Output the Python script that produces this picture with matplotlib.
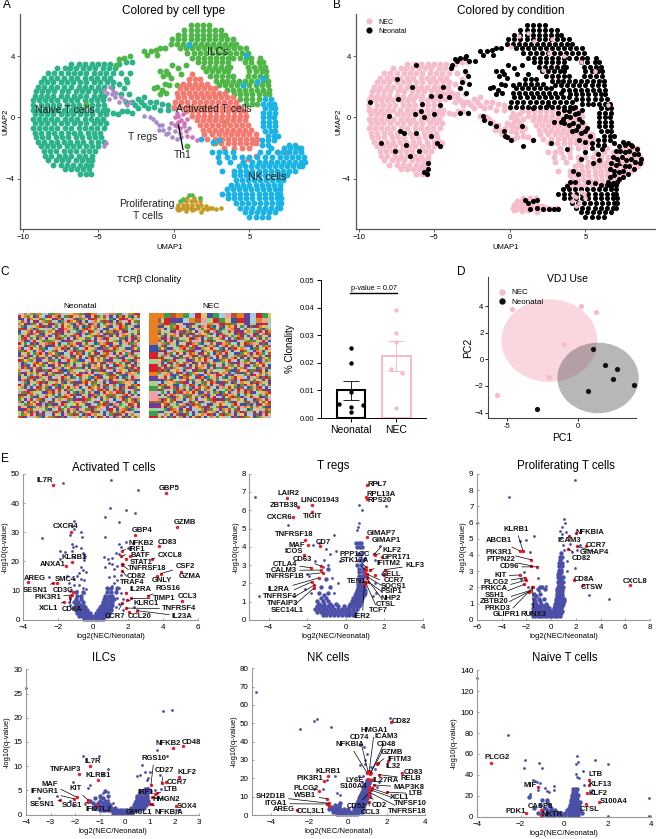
import matplotlib
matplotlib.use("Agg")
import matplotlib.pyplot as plt
from matplotlib.colors import ListedColormap
from matplotlib.patches import Ellipse
from matplotlib.lines import Line2D

plt.rcParams['font.family'] = ['Liberation Sans', 'DejaVu Sans']

W, H = 656, 839

# ---- UMAP points, rows of (y, [x, ...]) ----
naive_rows = [
    (3.5, [-6.8, -6.3, -5.9, -5.4, -5.0, -4.6, -4.2]),
    (3.2, [-7.7, -7.2, -6.9, -6.5, -6.0, -5.6, -5.2, -4.7, -4.3, -3.9]),
    (2.9, [-8.3, -7.9, -7.5, -7.0, -6.6, -6.2, -5.8, -5.3, -4.9, -4.5, -4.0]),
    (2.6, [-8.6, -8.1, -7.7, -7.3, -6.8, -6.4, -5.9, -5.5, -5.1, -4.6, -4.2]),
    (2.3, [-8.8, -8.4, -8.0, -7.5, -7.1, -6.7, -6.2, -5.8, -5.3, -4.9, -4.4, -4.0]),
    (2.0, [-9.0, -8.6, -8.1, -7.7, -7.3, -6.8, -6.3, -5.9, -5.5, -5.0, -4.6, -4.1]),
    (1.7, [-9.1, -8.7, -8.3, -7.9, -7.4, -7.0, -6.5, -6.1, -5.7, -5.2, -4.8]),
    (1.4, [-9.2, -8.8, -8.4, -8.0, -7.5, -7.1, -6.6, -6.2, -5.8, -5.3, -4.9, -4.6]),
    (1.1, [-9.3, -8.9, -8.5, -8.1, -7.7, -7.2, -6.8, -6.4, -5.9, -5.5, -5.1, -4.7]),
    (0.8, [-9.3, -8.8, -8.4, -8.0, -7.6, -7.1, -6.7, -6.3, -5.8, -5.4, -5.0, -4.6]),
    (0.5, [-9.3, -8.9, -8.5, -8.1, -7.7, -7.3, -6.8, -6.4, -6.0, -5.5, -5.1, -4.7, -4.4]),
    (0.2, [-9.2, -8.8, -8.4, -8.0, -7.5, -7.1, -6.7, -6.2, -5.8, -5.4, -4.9, -4.5]),
    (-0.1, [-9.3, -8.9, -8.5, -8.1, -7.7, -7.2, -6.8, -6.4, -5.9, -5.5, -5.1, -4.7]),
    (-0.4, [-9.2, -8.8, -8.4, -7.9, -7.5, -7.1, -6.6, -6.2, -5.8, -5.3, -4.9, -4.5]),
    (-0.7, [-9.3, -8.9, -8.5, -8.1, -7.7, -7.2, -6.8, -6.3, -5.9, -5.5, -5.1, -4.6]),
    (-1.0, [-9.2, -8.8, -8.3, -7.9, -7.5, -7.0, -6.6, -6.2, -5.7, -5.3, -4.9]),
    (-1.3, [-9.1, -8.7, -8.3, -7.8, -7.4, -7.0, -6.5, -6.1, -5.6, -5.2, -4.8]),
    (-1.6, [-9.0, -8.6, -8.1, -7.7, -7.3, -6.9, -6.4, -6.0, -5.5, -5.0, -4.6]),
    (-1.9, [-8.8, -8.4, -8.0, -7.6, -7.1, -6.7, -6.3, -5.8, -5.4, -5.0]),
    (-2.2, [-8.6, -8.2, -7.8, -7.3, -6.9, -6.5, -6.0, -5.6, -5.2]),
    (-2.5, [-8.5, -8.1, -7.6, -7.2, -6.8, -6.3, -5.9, -5.4]),
    (-2.8, [-8.3, -7.8, -7.4, -7.0, -6.5, -6.1, -5.7, -5.4]),
    (-3.1, [-8.0, -7.5, -7.1, -6.7, -6.2, -5.8, -5.5]),
    (-3.4, [-7.2, -6.8, -6.4, -6.0, -5.6]),
    (-3.7, [-6.2, -5.8, -5.5]),
]
naive_tail_x = [-3.6, -3.2, -2.8, -3.5, -3.2, -2.9, -3.6, -3.3, -3.1, -3.5, -3.0, -4.0, -3.7, -3.4, -3.1,
                -2.8, -2.4, -2.0, -1.6, -1.2, -0.8, -0.4, -3.2, -2.8, -2.4, -2.0, -2.6, -2.2, -1.7, -1.3, -0.9, -0.4, 0.0]
naive_tail_y = [3.5, 3.6, 3.6, 2.9, 2.5, 2.9, 2.2, 1.9, 2.3, 1.5, 1.5, 0.3, 0.2, 0.4, 0.4,
                0.3, 0.6, 0.8, 1.0, 1.0, 0.9, 0.8, 1.0, 1.0, 1.2, 1.3, 0.8, 1.0, 0.6, 0.7, 0.5, 0.5, 0.6]

ilc_rows = [
    (6.0, [1.1, 1.5, 1.9, 2.3]),
    (5.7, [0.7, 1.1, 1.5, 1.9, 2.3, 2.7, 3.1]),
    (5.4, [0.3, 0.7, 1.1, 1.5, 1.9, 2.3, 2.7, 3.1, 3.4]),
    (5.1, [-0.1, 0.3, 0.7, 1.1, 1.5, 1.9, 2.3, 2.7, 3.1, 3.5, 3.9]),
    (4.8, [-0.2, 0.2, 0.6, 1.0, 1.4, 1.8, 2.2, 2.6, 3.0, 3.4, 3.8, 4.1]),
    (4.5, [0.4, 0.8, 1.2, 1.6, 2.0, 2.4, 2.8, 3.2, 3.6, 4.0, 4.4, 4.8]),
    (4.2, [0.9, 1.3, 1.7, 2.1, 2.5, 2.9, 3.3, 3.7, 4.1, 4.5, 4.9]),
    (3.9, [1.2, 1.6, 2.0, 2.4, 2.8, 3.2, 3.6, 3.9, 4.4, 4.8, 5.1, 5.7]),
    (3.6, [1.6, 2.0, 2.4, 2.8, 3.2, 3.6, 4.7, 5.1, 5.6, 5.9]),
    (3.3, [1.9, 2.3, 2.7, 3.1, 3.5, 3.7, 4.9, 5.3, 5.7, 6.0]),
    (3.0, [2.1, 2.5, 2.9, 3.3, 3.6, 5.0, 5.4, 5.8, 6.1]),
    (2.7, [2.4, 2.8, 3.2, 3.6, 3.9, 4.9, 5.3, 5.7, 6.1]),
    (2.4, [2.8, 3.2, 3.5, 3.9, 4.3, 4.7, 5.1, 5.5, 5.9, 6.2]),
    (2.1, [3.0, 3.4, 3.8, 4.2, 4.6, 5.0, 5.4, 5.8, 6.2]),
    (1.8, [3.5, 3.9, 4.3, 4.7, 5.1, 5.5, 5.9, 6.3]),
    (1.5, [4.0, 4.4, 4.8, 5.2, 5.6, 6.0, 6.3]),
    (1.2, [4.4, 4.8, 5.2, 5.6]),
    (0.9, [4.8, 5.2, 5.5]),
]
ilc_left_x = [-3.6, -3.3, -2.9, -2.0, -1.8, -1.5, -1.2, -0.9, -1.1, -0.6, -0.9, -0.5, -0.7, -0.4, -0.2,
              -1.1, -1.3, -0.8, -0.6, -0.9, -0.5, -0.3, 0.2, 0.3, 0.5, 0.8, -0.1, 1.5, 2.4, 3.4, 0.9, 2.7, -3.8, -5.8, 6.5]
ilc_left_y = [3.8, 3.9, 4.0, 4.3, 4.1, 4.3, 4.4, 4.5, 4.1, 4.5, 3.0, 3.0, 2.7, 2.8, 2.6,
              2.0, 1.9, 1.8, 2.2, 1.5, 1.6, 2.1, 2.1, 3.2, 2.8, 3.4, 3.4, 0.6, 0.7, -0.3, -1.9, -1.7, 3.4, 0.9, 0.7]

act_hi_rows = [
    (2.8, [1.2]),
    (2.5, [1.0, 1.4, 1.7]),
    (2.2, [0.6, 1.0, 1.4, 1.8, 2.2]),
    (1.9, [0.4, 0.8, 1.2, 1.6, 2.0, 2.4, 2.7]),
    (1.6, [0.2, 0.6, 1.0, 1.4, 1.8, 2.2, 2.6, 3.0, 3.4]),
    (1.3, [0.3, 0.7, 1.1, 1.5, 1.9, 2.3, 2.7, 3.1, 3.5, 3.9]),
    (1.0, [0.1, 0.5, 0.9, 1.3, 1.7, 2.1, 2.5, 2.9, 3.3, 3.7, 4.1]),
    (0.7, [0.0, 0.4, 0.8, 1.2, 1.6, 2.0, 2.4, 2.8, 3.2, 3.6, 4.0, 4.3]),
]
act_lo_rows = [
    (0.4, [0.8, 1.2, 1.6, 2.0, 2.4, 2.8, 3.2, 3.6, 4.0, 4.4, 4.7]),
    (0.1, [1.2, 1.6, 2.0, 2.4, 2.8, 3.2, 3.6, 4.0, 4.4, 4.8]),
    (-0.2, [1.5, 1.9, 2.3, 2.7, 3.1, 3.5, 3.9, 4.3, 4.7]),
    (-0.5, [1.7, 2.1, 2.5, 2.9, 3.3, 3.7, 4.1, 4.5, 4.9]),
    (-0.8, [1.9, 2.3, 2.7, 3.1, 3.5, 3.9, 4.3, 4.7, 5.1]),
    (-1.1, [2.0, 2.5, 3.0, 3.4, 3.8, 4.2, 4.6, 5.0, 5.4]),
    (-1.4, [2.2, 2.7, 3.2, 3.6, 4.0, 4.4, 4.8, 5.2, 5.5]),
    (-1.7, [2.6, 3.1, 3.6, 4.0, 4.4, 4.8, 5.2, 5.4]),
    (-2.0, [3.3, 4.0, 4.5, 5.0]),
]
act_far_x = [4.9, 5.4, 6.9, 7.4, 8.3, 4.6]
act_far_y = [-2.7, -2.5, -2.3, -2.3, -2.0, -2.9]

nk_top_rows = [
    (1.2, [6.0, 6.4]),
    (0.9, [5.9, 6.3, 6.6]),
    (0.6, [6.0, 6.4, 6.7]),
    (0.3, [5.9, 6.3, 6.7]),
    (0.0, [5.9, 6.3, 6.6]),
    (-0.3, [5.9, 6.3, 6.7]),
    (-0.6, [5.9, 6.3, 6.7]),
    (-0.9, [6.0, 6.4, 6.7]),
    (-1.2, [6.2, 6.6, 6.9]),
    (-1.5, [5.8, 6.2, 6.6]),
    (-1.8, [5.8, 6.2, 7.6, 8.0]),
]
nk_mid_rows = [
    (-2.0, [6.4, 7.3, 7.7, 8.1, 8.4]),
    (-2.3, [2.5, 3.0, 3.4, 3.9, 5.7, 6.2, 6.8, 7.2, 7.6, 8.0, 8.4]),
    (-2.6, [2.9, 3.5, 4.0, 4.5, 5.0, 5.5, 6.0, 6.5, 7.0, 7.4, 7.8, 8.2, 8.6]),
    (-2.9, [3.0, 3.7, 4.6, 5.2, 5.6, 6.0, 6.4, 6.8, 7.2, 7.6, 8.0, 8.4, 8.7]),
    (-3.2, [4.3, 4.7, 5.1, 5.5, 5.9, 6.3, 6.7, 7.1, 7.5, 7.9, 8.3, 8.5]),
    (-3.5, [3.2, 4.0, 4.4, 4.8, 5.2, 5.6, 6.0, 6.4, 6.8, 7.2, 7.6, 8.0]),
    (-3.8, [4.0, 4.4, 4.8, 5.2, 5.6, 6.0, 6.4, 6.8, 7.2, 7.5]),
    (-4.1, [4.1, 4.5, 4.9, 5.3, 5.7, 6.1, 6.5, 6.9, 7.2]),
    (-4.4, [3.8, 4.2, 4.6, 5.0, 5.4, 5.8, 6.2, 6.6, 7.0]),
]
nk_low_rows = [
    (-4.7, [3.5, 3.9, 4.3, 4.7, 5.1, 5.5, 5.9, 6.3, 6.7, 7.0]),
    (-5.0, [3.2, 3.6, 4.0, 4.4, 4.8, 5.2, 5.6, 6.0, 6.4, 6.8, 7.0]),
    (-5.3, [3.6, 4.0, 4.4, 4.8, 5.2, 5.6, 6.0, 6.4, 6.8, 7.1]),
    (-5.6, [4.1, 4.5, 4.9, 5.3, 5.7, 6.1, 6.5, 6.9, 7.1]),
    (-5.9, [4.4, 4.8, 5.2, 5.6, 6.0, 6.4, 6.8, 7.0]),
    (-6.2, [4.7, 5.1, 5.5, 5.9, 6.3, 6.7]),
    (-6.5, [5.0, 5.4, 5.8, 6.2]),
]
treg_x = [-2.0, -1.6, -1.2, -1.0, -0.7, -0.4, -0.1, 0.2, -0.3, 0.1, 0.4, 0.2, 0.7, 1.0, -0.8, 0.5, -1.4, -1.0, -0.5, -0.2,
          -4.4, -4.0, -4.2, -4.3, -3.9, -3.6, -3.3, -3.1, -2.9, -3.5, -4.6, -4.1, -3.8, -4.5, -4.6]
treg_y = [0.1, 0.0, -0.3, -0.5, -0.8, -1.0, -1.3, -1.4, -0.7, -0.9, -1.0, -0.6, -0.6, -0.7, -0.5, -1.3, -0.1, -0.8, -1.1, -0.4,
          1.6, 1.7, 2.0, 1.2, 1.3, 1.0, 1.1, 0.8, 1.0, 1.3, 1.8, 1.5, 1.6, -1.7, -1.9]
th1_x = [0.1, 0.2, 0.3, 0.5, 0.1, 0.7, 0.9, 1.2, 1.5, 0.6, 0.9, 0.3, 0.4, 0.8]
th1_y = [0.0, 0.3, -0.3, -0.2, -0.5, -0.4, -1.2, -1.3, -1.5, 0.2, -0.1, 0.1, -0.7, -0.9]
prolif_x = [0.2, 0.4, 0.6, 0.9, 1.1, 1.3, 1.6, 1.9, 2.2, 0.3, 0.6, 0.9, 1.2, 1.5, 1.8, 2.1, 2.4,
            0.5, 0.8, 1.1, 1.4, 1.7, 0.9, 1.3, 1.7, 0.3, 0.8, 1.2, 1.8, 2.5, 2.8, 3.1]
prolif_y = [-5.9, -6.0, -5.9, -5.9, -5.9, -6.0, -5.9, -6.0, -6.0, -5.7, -5.7, -5.7, -5.7, -5.7, -5.7, -5.8, -5.9,
            -5.5, -5.5, -5.5, -5.5, -5.5, -5.3, -5.3, -5.3, -6.05, -6.1, -6.05, -6.2, -5.95, -6.0, -5.95]
green_on_prolif_x = [0.4, 0.6, 1.0, 1.2, 1.7]
green_on_prolif_y = [-5.5, -5.35, -5.1, -5.1, -5.3]
blue_spare_x = [1.0, 4.8, 4.6, 5.9, 5.5, 1.8, 3.0, 2.6]
blue_spare_y = [4.7, 4.1, 2.1, 2.6, 2.3, -1.4, -1.5, -1.6]

# condition overlays for panel B
neonatal_extra_x = [-9.25, -7.5, -6.2, -6.5, -7.4, -5.2, -5.9, -6.3, -5.7, -4.6, -4.6, -4.4, -8.0, -7.3, -7.0, -6.9, -6.6, -6.0,
                    -5.2, -4.8, -6.2, -7.6, -5.5, -5.7, -5.4, -5.4, -8.5, -4.6, -5.0, -4.0, -3.9, -3.5, -3.0, -2.7, -2.3,
                    -3.0, -2.8, -3.2, -2.7, -2.9, -3.3, -3.3, -2.8, -1.8, -1.7, -1.3, -0.9, -0.4, -0.2, 0.1, -0.3, 0.8, 1.5,
                    3.6, 3.9, 4.2, 4.5, 4.8, 3.7, 4.0, 4.3, 4.6, 3.6, 3.9, 4.2, 4.5, 4.8, 5.1, 4.1, 4.4, 4.7, 5.0, 5.3, 4.6, 5.0, 5.4,
                    3.2, 3.5, 2.9, 2.5, 3.8,
                    6.9, 7.2, 7.5, 7.8, 8.1, 8.4, 7.0, 7.3, 7.6, 7.9, 8.2, 8.5, 8.7, 6.8, 7.1, 7.4, 7.7, 8.0, 8.3, 8.6, 6.7, 7.0, 7.3, 7.6, 7.9, 8.2,
                    6.6, 6.9, 7.2, 7.5, 7.8, 6.6, 6.9, 7.2, 7.5, 6.5, 6.8, 7.1, 6.4, 6.7, 7.0,
                    4.2, 4.5, 4.0, 3.8, 4.3, 4.7, 5.0, 5.4, 5.8, 6.1, 5.2, 5.6, 6.0, 5.5, 5.9,
                    1.0, 1.2, 1.5, 1.8, 1.8, 1.3, 2.2, 2.6, 2.9, 3.2]
neonatal_extra_y = [1.0, 2.5, 3.4, 2.0, 1.2, 1.4, 0.4, 0.2, 0.0, 0.8, 1.4, 2.0, 0.1, -0.9, -1.0, -1.8, -2.5, -2.2,
                    -1.2, -1.7, -1.0, -2.2, -3.7, -3.6, -3.4, -3.0, -1.7, -1.9, 0.2, 1.3, 3.2, 3.7, 3.9, 3.7, 3.7,
                    3.0, 2.7, 2.3, 2.2, 1.6, 1.9, 0.3, 0.3, 0.1, -0.2, -0.4, -0.6, -0.9, -1.3, -1.5, -1.2, -0.6, -1.5,
                    0.5, 0.4, 0.6, 0.3, 0.5, 0.1, 0.0, 0.2, -0.1, -0.4, -0.5, -0.4, -0.6, -0.3, -0.7, -0.9, -0.8, -1.0, -0.9, -1.2, -1.5, -1.6, -1.7,
                    0.3, -0.1, -0.3, 0.8, -2.1,
                    -1.7, -1.9, -1.6, -1.7, -1.9, -2.1, -2.2, -2.2, -2.3, -2.2, -2.4, -2.4, -2.7, -2.6, -2.7, -2.6, -2.8, -2.7, -2.9, -3.0, -3.0, -3.1, -3.0, -3.2, -3.2, -3.4,
                    -3.4, -3.5, -3.6, -3.5, -3.7, -3.9, -3.8, -4.0, -3.9, -4.2, -4.3, -4.2, -4.4, -4.5, -4.4,
                    -3.5, -3.7, -4.2, -4.5, -4.2, -2.7, -2.3, -2.0, -2.4, -2.1, -4.2, -4.3, -4.4, -3.0, -2.8,
                    -5.4, -5.6, -5.5, -5.4, -5.9, -6.0, -6.0, -6.0, -6.0, -6.0]
nec_extra_x = [4.1, 4.4, 4.6, 4.4, 4.9, 4.2, 4.7, 5.0, 0.1, 0.6, 1.6, 2.8, 3.6, 2.2, 5.6, 4.7, 1.2, 2.6, 6.5, 7.4, 5.7]
nec_extra_y = [-5.5, -5.2, -5.6, -5.8, -5.0, -5.1, -4.9, -5.3, 4.6, 5.3, 5.0, 5.1, 4.0, 3.1, 3.0, 3.6, 5.5, 4.2, 0.8, -2.9, -3.6]

# ---- panel C ----
neonatal_grid = [
    "8808040088440088770044220088660044880022",
    "2704719385260174923608517243961850274139",
    "5182036947712058369140752963084172596038",
    "3961825704938146207953186074295310862749",
    "0725948163250397841620759318460392715864",
    "6418370259164827035981426053791862047351",
    "9253014786398520674139207468153072948160",
    "1870562943075216938450829361740596128374",
    "4639208157642917380256143708259416073982",
    "7105839426185034792618370295461728093546",
    "3926471085739246185073948160527389416250",
    "8051627394408615293874120576893045726139",
    "2748195360927138406257983146025781369408",
    "6319048275153469720814605382971024783596",
    "0586273941860729135486273015946208351974",
    "9427316058342871605942730186529437068125",
    "1739840265074518326901847253096172840563",
    "5062189374629403851727395461208753916048",
    "8314705926185720349658102397462045183729",
    "2970461583943186270415862703915836204197",
    "6148302795706251984330749582160974352816",
    "3591827046128974035682416079358120647593",
    "7205964138850316729441823605792483019265",
    "0863172594267951403878031942586160735429",
    "4527039861391248560719562837041352890764",
    "9316480725043685917226708159342974516038",
    "1784295036586720314896341025879053148267",
    "5092613847912354076843918267405768320915",
    "8641730295370891642150279436185294076318",
    "2359846170624103785967584013926481537902",
    "7013582964189547230618320796548035962147",
    "3865120479956271048331764892057102483695",
    "6492037815023986574104896153270629175348",
    "1257964380748130629557312048694983026571",
    "9038415762365492071882650139742470519386",
    "4716280953817036945212947685308136247950",
    "0582397146293751480669083127456815793024",
    "8349072561451620837973516840291064382975",
    "2675148039706984315248325907618593740162",
    "5120936784138247960567491036852716095438",
    "7964501823692058174310672458139340276815",
    "3407261958857316042981926073584259613087",
    "9258630417042195836746081329756108245793",
]
nec_top_rows = [
    "0044990044882277114488669900558822447",
    "0044990044882277114488669900558822447",
    "9322551188009966332244771122558800663",
    "9322551188009966332244771122558800663",
    "0922447755113388006622994477113355228",
]
nec_strip_labels = [1, 2, 3, 2, 0, 5, 3, 4, 6, 9, 5, 3, 4, 2]
nec_strip_rows = [3, 3, 2, 3, 2, 2, 2, 2, 4, 1, 2, 1, 2, 1]
clonality_neonatal = [0.0255, 0.0201, 0.0093, 0.0051, 0.0046, 0.0039, 0.0022]
clonality_nec = [0.0392, 0.031, 0.0277, 0.0177, 0.0165, 0.0035]
neonatal_dodge = [0, 0, 0, -0.27, 0.27, 0, 0]
nec_dodge = [0, 0, 0, -0.13, 0.13, 0]
bar_means = [0.010, 0.0225]
bar_errs = [0.0035, 0.0055]

# ---- panel D ----
pc_nec_x = [-4.65, 0.2, 1.25, -1.0, -2.0, -5.7]
pc_nec_y = [3.8, 4.0, 3.55, 1.15, -1.3, -2.65]
pc_neo_x = [1.05, 1.9, 2.75, 2.5, 0.75, 3.95, -2.85]
pc_neo_y = [0.8, -0.4, -0.7, -1.45, -2.4, -1.95, -3.7]
ell_nec = (-2.0, 1.4, 6.76, 6.2)
ell_neo = (1.43, -1.4, 5.73, 5.3)

# ---- volcano panels: blue cloud rows, sparse points, genes, label spots ----
act_rows = [
    (0.4, [-0.5, -0.35, -0.2, -0.05, 0.1, 0.25, 0.4, 0.55]),
    (1.2, [-0.8, -0.65, -0.5, -0.35, -0.2, -0.05, 0.1, 0.25, 0.4, 0.55, 0.7, 0.85]),
    (2.2, [-0.9, -0.75, -0.6, -0.45, -0.3, -0.15, 0.15, 0.3, 0.45, 0.6, 0.75, 0.9]),
    (3.2, [-1.0, -0.85, -0.7, -0.5, -0.35, 0.3, 0.45, 0.6, 0.75, 0.9, 1.05]),
    (4.2, [-1.0, -0.8, -0.6, -0.45, 0.4, 0.55, 0.7, 0.85, 1.0]),
    (5.2, [-1.0, -0.75, -0.55, 0.5, 0.65, 0.8, 0.95, 1.1]),
    (6.2, [-1.1, -0.85, -0.6, 0.55, 0.7, 0.9, 1.1]),
    (7.2, [-1.0, -0.7, 0.6, 0.8, 1.0, 1.2]),
    (8.2, [-0.9, -0.7, 0.7, 0.9, 1.1]),
    (9.5, [-1.0, -0.6, 0.8, 1.0, 1.3]),
    (11.0, [0.8, 1.05, 1.4]),
]
act_sparse_x = [1.05, -1.75, 2.6, 0.95, 1.9, 2.4, 0.7, 1.5, -1.1, -1.2, -1.1, -0.7, -0.65, -1.3, -2.9, 0.7, -1.2, -1.15, -0.95, -0.7,
                -1.9, -1.6, -1.2, -0.6, -0.5, -0.5, -0.45, -1.9, -1.1, -0.5, 1.9, 1.5, 1.6, 2.0, 1.3, 1.5, 0.6, 0.85, 1.1, 0.9,
                1.1, 0.7, 1.2, 1.4, 1.6, 1.2, 0.9, 1.4, -0.7, -0.6, -0.8, -0.4, -0.9, -1.1, -0.7, -0.5, -2.5, -1.5, -1.4, -1.1,
                -0.8, -0.6, -1.3, -0.9, -0.4, -0.5, 1.2, 1.1, 0.9, 1.5, 1.3, 1.6, 1.7, 1.4, 2.35, 2.5, 1.7, 1.3, 1.5, -1.3, -1.35, -1.4, -1.3, -1.2]
act_sparse_y = [48, 47, 44.5, 38.5, 37.5, 36.5, 35.3, 33.5, 34, 32, 31, 30, 28.5, 29, 28, 28.3, 26, 25, 25.2, 24.5,
                23.5, 23.2, 23.5, 23, 22.5, 21.5, 22, 21, 21.5, 20.5, 26.5, 26, 25, 24.5, 23, 22.5, 21.5, 21, 21.2, 19.5,
                19, 18, 17.5, 18.5, 15.5, 15, 14.5, 13.5, 18, 17, 16, 16.5, 15, 14, 14, 13.5, 14.8, 15, 12.5, 12,
                12, 11, 10, 10, 10.5, 9, 12.5, 11.5, 10.5, 11, 10, 9, 7, 7.5, 4.5, 3.5, 3.5, 4.5, 5.5, 8, 7, 6, 5, 4]
act_genes = ["IL7R", "GBP5", "GZMB", "CXCR4", "GBP4", "CD83", "NFKB2", "IRF1", "BATF", "CXCL8", "KLRB1", "STAT1", "ANXA1", "TNFRSF18", "CSF2",
             "CD82", "GZMA", "GNLY", "TRAF4", "AREG", "SMC4", "SESN1", "IL2RA", "RGS16", "CD3G", "PIK3R1", "TIMP1", "CCL3", "KLRC1", "XCL1",
             "CD8A", "TNFRSF4", "CCR7", "CCL20", "IL23A"]
act_x = [-2.29, 4.21, 4.82, -1.26, 2.39, 3.77, 1.68, 1.63, 2.12, 3.38, -1.22, 1.89, -1.57, 1.68, 3.88,
         1.68, 5.07, 3.69, 1.66, -3.71, -2.05, -2.29, 1.89, 3.14, -1.17, -1.22, 2.16, 5.1, 1.95, -1.68,
         -1.34, 1.89, 1.68, 2.08, 2.54]
act_y = [46.3, 43.4, 31.7, 30.2, 29.2, 25.3, 23.7, 21.7, 22, 20.8, 19.9, 21, 18.3, 19.1, 15.8,
         18.8, 16.2, 15, 16.8, 12.9, 12.5, 12.5, 9.3, 8.2, 9.4, 8.5, 7.3, 6.5, 6.8, 6.1,
         7.9, 4, 5.6, 2.5, 3.1]
act_spots = [(135, 93), (507, 116), (555, 216), (198, 229), (427, 241), (503, 278), (423, 280), (410, 298), (422, 317), (510, 316), (224, 322), (423, 338), (158, 344), (441, 357), (556, 349),
             (408, 378), (571, 380), (487, 392), (396, 398), (103, 384), (195, 389), (105, 420), (421, 418), (505, 416), (190, 422), (143, 443), (492, 447), (563, 440), (437, 460), (146, 476),
             (216, 478), (538, 477), (346, 498), (418, 499), (547, 499)]
act_lines = ["NFKB2", "IRF1", "CXCL8", "STAT1", "TNFRSF18", "CSF2", "CD82", "TRAF4", "SESN1", "IL2RA", "RGS16", "PIK3R1", "TIMP1", "KLRC1", "XCL1", "CD8A", "TNFRSF4", "CCR7", "IL23A"]

treg_rows = [
    (0.3, [-1.2, -1.0, -0.8, -0.6, -0.4, -0.2, 0.0, 0.2, 0.4]),
    (0.45, [-1.5, -1.3, -1.1, -0.9, -0.7, -0.5, -0.3, -0.1, 0.1, 0.3, 0.5]),
    (0.6, [-1.6, -1.4, -1.2, -1.0, -0.8, -0.6, -0.4, -0.2, 0.0, 0.2, 0.4, 0.6]),
    (0.75, [-1.5, -1.3, -1.1, -0.9, -0.7, -0.4, -0.1, 0.15, 0.35, 0.55, 0.7]),
    (0.9, [-1.4, -1.1, -0.8, -0.5, 0.25, 0.45, 0.6, 0.75]),
    (1.05, [-1.5, -1.2, -0.9, 0.35, 0.5, 0.65, 0.8]),
    (1.2, [-1.3, -1.0, 0.4, 0.55, 0.7, 0.85]),
    (1.35, [-1.1, 0.5, 0.65, 0.8, 0.95]),
    (1.5, [-1.4, -0.9, 0.55, 0.7, 0.85, 1.0]),
    (1.65, [0.6, 0.75, 0.9, 1.0]),
    (1.8, [-1.3, -0.8, 0.65, 0.8, 0.95]),
    (1.95, [0.65, 0.8, 0.95]),
    (2.1, [0.7, 0.85, 1.0]),
    (2.25, [-1.0, 0.7, 0.85]),
    (2.4, [0.7, 0.85, 1.0]),
    (2.6, [0.7, 0.9]),
    (2.8, [-0.9, 0.7, 0.9]),
    (3.0, [0.6, 0.8]),
    (3.3, [0.7, 0.9]),
    (3.6, [0.65, 0.8]),
    (4.0, [0.6, 0.75, 0.85]),
    (4.2, [0.55, 0.7, 0.8]),
]
treg_sparse_x = [-4.7, -4.5, -3.0, 1.65, 2.1, 0.7, 0.85, 0.7, 0.65, 0.6, -0.6, -1.0, -0.8, -0.5, -0.9, -1.7, -1.6, -1.4, -1.9, -1.1, -0.3, 1.8, 1.5, 1.9, 1.4, 1.55, -2.0, -1.8, 1.0, 0.9, -0.4, -2.1, -1.5, -0.7, -1.2, -0.6, 1.6]
treg_sparse_y = [6.7, 1.3, 5.2, 7.5, 6.25, 6.3, 6.0, 5.3, 5.1, 4.9, 4.65, 3.9, 3.6, 3.8, 3.0, 4.1, 3.2, 4.2, 2.4, 3.3, 3.2, 4.05, 3.3, 2.5, 1.3, 2.0, 2.5, 1.5, 3.4, 3.7, 2.0, 1.7, 1.0, 2.3, 2.9, 1.5, 1.5]
treg_genes = ["RPL7", "RPL13A", "RPS20", "LAIR2", "LINC01943", "ZBTB38", "TIGIT", "CXCR6", "GIMAP7", "TNFRSF18", "GIMAP1", "MAF", "CD7", "KLF2", "ICOS", "GPR171",
              "PPP1CC", "STK17A", "CD63", "IFITM2", "KLF3", "CTLA4", "CALM3", "SELL", "TNFRSF1B", "CCR7", "TEN1", "SOCS1", "IL2RA", "PSIP1", "TNFRSF4", "NHP2",
              "TNFAIP3", "CTSL", "TCF7", "SEC14L1", "IER2"]
treg_gx = [1.12, 1.04, 1.12, -3.02, -1.74, -2.45, -1.74, -2.71, 1.12, -2.12, 1.49, -1.93, -1.31, 1.55, -2.18, 1.88,
           1.05, 1.04, -1.28, 1.26, 2.02, -1.81, -1.3, 1.55, -1.19, 1.97, 1.02, 1.09, -1.4, 1.12, -1.76, 1.17,
           -1.62, 1.09, 1.02, -1.62, 0.97]
treg_gy = [7.4, 6.74, 6.63, 6.65, 6.27, 6.16, 5.9, 5.61, 4.55, 4.4, 3.59, 4.1, 4.03, 3.57, 3.57, 3.42,
           2.88, 2.73, 2.95, 2.73, 2.75, 2.86, 2.73, 2.44, 2.59, 2.46, 2.55, 2.51, 2.3, 2.37, 2.08, 2.09,
           1.91, 2.28, 2.09, 1.77, 1.91]
treg_spots = [(472, 105), (482, 133), (478, 152), (205, 130), (299, 151), (192, 167), (278, 199), (180, 203), (484, 250), (222, 255), (498, 273), (229, 286), (310, 279), (516, 300), (221, 304), (530, 323),
              (405, 314), (402, 331), (247, 328), (507, 341), (584, 346), (195, 343), (192, 361), (515, 372), (193, 381), (523, 390), (411, 395), (522, 408), (177, 418), (515, 425), (180, 438), (512, 444),
              (188, 461), (498, 463), (475, 483), (203, 483), (427, 500)]
treg_lines = ["GIMAP1", "KLF2", "PPP1CC", "STK17A", "CD63", "IFITM2", "KLF3", "CTLA4", "CALM3", "TNFRSF1B", "SOCS1", "IL2RA", "PSIP1", "TNFRSF4", "NHP2", "TNFAIP3", "CTSL", "TCF7", "SEC14L1", "IER2"]

prolif_rows = [
    (0.25, [-1.5, -1.3, -1.1, -0.9, -0.7, -0.5, -0.3, -0.1, 0.1, 0.3, 0.5, 0.7]),
    (0.4, [-1.6, -1.4, -1.2, -1.0, -0.8, -0.6, -0.4, -0.2, 0.0, 0.2, 0.4, 0.6, 0.8]),
    (0.55, [-1.5, -1.3, -1.1, -0.9, -0.7, -0.5, -0.3, -0.1, 0.1, 0.3, 0.5, 0.7, 0.85]),
    (0.7, [-1.5, -1.2, -1.0, -0.8, -0.6, -0.4, -0.2, 0.2, 0.4, 0.6, 0.8]),
    (0.85, [-1.4, -1.1, -0.9, -0.6, -0.3, 0.3, 0.5, 0.7, 0.9]),
    (1.0, [-1.5, -1.2, -0.8, -0.4, 0.35, 0.55, 0.75, 0.95]),
    (1.15, [-1.3, -0.9, 0.4, 0.6, 0.8, 1.0]),
    (1.3, [-1.4, -1.0, -0.6, 0.4, 0.6, 0.8, 1.0]),
    (1.45, [-1.2, 0.45, 0.65, 0.85]),
    (1.6, [-1.4, -0.9, 0.5, 0.7, 0.9]),
    (1.75, [0.5, 0.7, 0.9]),
    (1.9, [-1.1, -0.5, 0.5, 0.7, 0.9]),
    (2.05, [-0.9, -0.7, 0.55, 0.75, 0.95]),
    (2.2, [0.6, 0.8]),
    (2.35, [0.55, 0.75, 0.95]),
    (2.5, [0.6, 0.8]),
    (2.65, [0.55, 0.75, 0.95]),
    (2.8, [0.55, 0.75]),
    (2.95, [0.6, 0.8]),
    (3.1, [0.6, 0.8]),
    (3.3, [0.65, 0.85]),
    (3.5, [0.65, 0.85]),
    (3.7, [0.7]),
    (3.9, [0.75, 0.9]),
    (4.1, [0.8]),
]
prolif_sparse_x = [1.9, -3.4, -6.0, 1.0, 1.15, 0.9, 0.7, 0.85, 0.8, 1.2, 1.5, 0.95, -2.5, -2.0, -1.4, -1.7, 2.3, 2.1, 1.7, 1.0, 1.3, 3.1, 4.7, -2.2, -2.4, -1.1, -0.4, -1.9, 1.3, 1.9, -1.0]
prolif_sparse_y = [8.6, 7.6, 6.0, 6.25, 5.95, 5.75, 5.5, 5.3, 5.05, 5.4, 4.7, 4.6, 4.85, 4.9, 5.2, 4.2, 4.6, 4.3, 4.2, 4.3, 3.6, 1.55, 1.25, 2.95, 2.5, 2.6, 2.1, 2.0, 3.0, 3.2, 1.8]
prolif_genes = ["NFKBIA", "KLRB1", "ABCB1", "ICAM3", "CCR7", "GIMAP4", "CD82", "PIK3R1", "PTPN22", "CD96", "KIT", "CD8A", "CTSW", "CXCL8", "PLCG2", "PRKCA", "SSH1", "ZBTB20", "PRKD3", "GLIPR1", "RUNX3"]
prolif_gx = [2.02, -2.27, -2.51, 1.43, 2.83, 2.13, 1.4, -1.59, -1.59, -1.11, -2.54, 1.86, 2.54, 6.36, -2.13, -2.0, -2.18, -1.75, -1.81, -1.46, -1.51]
prolif_gy = [5.35, 4.24, 4.24, 5.16, 4.57, 4.53, 4.38, 3.7, 3.33, 3.27, 2.76, 2.45, 2.16, 2.16, 2.59, 2.45, 2.18, 1.79, 1.73, 2.0, 2.04]
prolif_spots = [(481, 248), (259, 238), (208, 272), (418, 272), (499, 286), (494, 306), (453, 324), (208, 306), (212, 329), (238, 351), (211, 377), (463, 388), (486, 413), (615, 395), (197, 397), (193, 417), (194, 437), (192, 455), (201, 474), (230, 493), (311, 493)]
prolif_lines = ["KLRB1", "ABCB1", "ICAM3", "GIMAP4", "CD82", "PIK3R1", "PTPN22", "CD96", "KIT", "PLCG2", "PRKCA", "SSH1", "ZBTB20", "PRKD3", "GLIPR1", "RUNX3"]

ilc_v_rows = [
    (0.4, [-0.5, -0.4, -0.3, -0.2, -0.1, 0.0, 0.1, 0.2, 0.3]),
    (0.9, [-1.0, -0.9, -0.8, -0.7, -0.6, -0.5, -0.4, -0.3, -0.2, -0.1, 0.0, 0.1, 0.2, 0.3, 0.4, 0.5, 0.6]),
    (1.4, [-1.3, -1.2, -1.05, -0.9, -0.8, -0.7, -0.55, -0.4, 0.25, 0.35, 0.45, 0.55, 0.65, 0.75]),
    (1.9, [-1.2, -1.05, -0.9, -0.75, -0.6, 0.35, 0.45, 0.55, 0.65, 0.75, 0.85]),
    (2.4, [-1.3, -1.1, -0.9, -0.7, 0.4, 0.5, 0.6, 0.7, 0.8, 0.9]),
    (2.9, [-1.4, -1.0, -0.8, 0.45, 0.55, 0.65, 0.75, 0.85, 0.95]),
    (3.4, [-1.2, -0.9, 0.5, 0.6, 0.7, 0.8, 0.9]),
    (3.9, [-1.0, -0.7, 0.5, 0.65, 0.8, 0.9]),
    (4.4, [0.6, 0.75, 0.9]),
    (4.9, [-0.8, 0.7, 0.85, 1.0]),
    (5.4, [0.8, 0.95]),
]
ilc_sparse_x = [-4.0, 1.55, 1.9, -1.7, -1.05, -0.7, -0.9, 1.3, 1.7, 0.7, 0.5, 0.6, 0.8, 1.0, 0.95, 0.9, 1.4, 1.45, -3.45, -2.75, -2.1, -2.2, -1.4, -1.5, -0.9, -1.0, -0.7, -0.7, -1.6, -2.1, -0.5, 2.15, 1.2, 0.9]
ilc_sparse_y = [26.2, 21.4, 21.6, 12.2, 12.1, 9.5, 8.5, 13.4, 12.2, 10.2, 8, 8.1, 8.8, 8.9, 7.5, 7.2, 8.2, 5.4, 3.5, 3.8, 6.7, 2.8, 6.2, 5.5, 4.5, 3.5, 4.7, 3.0, 2.2, 2.0, 2.5, 0.9, 5, 5.5]
ilc_genes = ["CD48", "NFKB2", "RGS10", "IL7R", "TNFAIP3", "KLRB1", "CD27", "KLF2", "CCR7", "MAF", "KIT", "LTB", "IRF1", "IFNGR1", "HMGN2", "SESN1", "SOS1", "SOX4", "IFI27L2", "GMCL1", "NFKBIA"]
ilc_gx = [2.35, 1.92, 1.05, -1.4, -1.85, -1.09, 1.48, 2.18, 1.65, -1.95, -1.48, 1.28, 1.2, -2.06, 1.1, -2.6, -1.5, 2.06, -1.17, 1.08, 1.03]
ilc_gy = [14.1, 13.8, 6.2, 10, 8.3, 7.2, 6.5, 7.8, 6.7, 3.65, 3, 4.4, 4.3, 3.3, 3.6, 3, 2.55, 1.8, 2, 2.3, 2.2]
ilc_spots = [(574, 307), (506, 310), (462, 356), (277, 365), (196, 389), (296, 407), (492, 392), (561, 396), (531, 428), (150, 432), (227, 447), (512, 448), (438, 456), (133, 455), (498, 478), (128, 493), (216, 496), (561, 499), (297, 508), (418, 516), (508, 516)]
ilc_lines = ["RGS10", "CD27", "MAF", "KIT", "LTB", "IFNGR1", "HMGN2", "SESN1", "SOS1", "NFKBIA"]

nk_v_rows = [
    (0.7, [-0.6, -0.45, -0.3, -0.15, 0.0, 0.15, 0.3, 0.45]),
    (1.9, [-0.8, -0.65, -0.5, -0.35, -0.2, -0.05, 0.1, 0.25, 0.4, 0.55, 0.7]),
    (3.1, [-1.0, -0.85, -0.7, -0.55, -0.4, -0.2, 0.0, 0.3, 0.45, 0.6, 0.75]),
    (4.3, [-0.9, -0.7, -0.5, 0.35, 0.5, 0.65, 0.8]),
    (5.5, [-0.7, -0.45, 0.4, 0.55, 0.7, 0.85]),
    (6.7, [-0.4, 0.45, 0.6, 0.75, 0.9]),
    (7.9, [0.5, 0.65, 0.8, 0.95]),
    (9.1, [0.55, 0.7, 0.85, 1.0]),
    (10.3, [0.6, 0.75, 0.9, 1.05]),
    (11.5, [0.65, 0.8, 0.95, 1.1]),
    (12.7, [0.7, 0.85, 1.0]),
    (13.9, [0.75, 0.9, 1.05]),
    (15.1, [0.8, 0.95, 1.1]),
    (16.3, [0.85, 1.0]),
    (17.5, [0.95, 1.1]),
    (19, [1.0, 1.2]),
]
nk_sparse_x = [-4.8, 2.2, -1.6, -1.75, -2.5, -0.9, 0.6, 0.85, 1.0, 0.9, 0.6, 1.2, 1.4, -0.7, -1.1, 0.55, 0.8, 0.7, -1.3, -0.6, -0.4, -1.8, 0.9, 1.6, 1.5]
nk_sparse_y = [67, 53, 52.5, 51, 47, 48, 38, 37, 33, 30, 27, 26, 25, 21, 19, 21, 21, 18, 14, 12, 11, 14, 28, 18, 15]
nk_genes = ["CD82", "HMGA1", "CD74", "ICAM3", "CD48", "NFKBIA", "GZMB", "IFITM3", "IL32", "KLRB1", "CD83", "PIK3R1", "RELB", "LY6E", "IL27RA", "S100A4", "PLCG2", "MAP3K8", "LTB", "WSB1", "SH2D1B", "XCL1", "ITGA1", "TNFSF10", "CD2", "CD52", "AREG", "TNFRSF18", "CCL3L1", "CCL3"]
nk_gx = [2.23, 1.1, 1.04, 1.19, 1.14, 0.98, 1.5, 2.1, 1.55, -1.04, 2.82, -1.26, 1.61, 1.04, 1.21, 1.1, -1.52, 1.33, 2.02, -1.09, -1.0, 1.24, -1.09, 1.19, 1.16, 1.04, -2.66, 1.1, -1.0, 1.07]
nk_gy = [50.9, 24.2, 23.6, 23.1, 22.4, 23.1, 27.6, 29.6, 28.5, 21.3, 22.7, 18.7, 22, 19.8, 19.1, 15.5, 13.3, 16.4, 12.5, 8.9, 6.4, 14.5, 6, 13.6, 10, 11.5, 2.9, 12.4, 5.1, 6.9]
nk_spots = [(544, 244), (463, 273), (419, 292), (500, 291), (499, 312), (390, 315), (515, 337), (540, 359), (519, 381), (324, 394), (579, 396), (269, 416), (572, 416), (403, 421), (498, 422), (402, 441), (257, 444), (567, 442), (588, 461), (256, 467), (152, 470), (538, 473), (167, 491), (570, 491), (478, 497), (410, 498), (192, 508), (562, 515), (273, 515), (451, 517)]
nk_lines = ["HMGA1", "CD74", "ICAM3", "CD48", "NFKBIA", "GZMB", "RELB", "MAP3K8", "LTB", "WSB1", "SH2D1B", "XCL1", "ITGA1", "TNFSF10", "CD2", "CD52", "TNFRSF18", "CCL3L1", "CCL3"]

naive_v_rows = [
    (1.2, [-1.0, -0.85, -0.7, -0.55, -0.4, -0.25, -0.1, 0.05, 0.2, 0.35, 0.5, 0.65]),
    (3.7, [-1.2, -1.0, -0.8, -0.6, -0.45, -0.3, -0.15, 0.05, 0.2, 0.35, 0.5, 0.65, 0.8]),
    (6.2, [-1.0, -0.8, -0.6, -0.4, 0.15, 0.3, 0.45, 0.6, 0.75]),
    (8.7, [-1.4, -0.9, -0.6, 0.2, 0.35, 0.5, 0.65]),
    (11.2, [-1.1, -0.7, 0.25, 0.4, 0.55, 0.7]),
    (13.7, [-0.8, 0.3, 0.45, 0.6, 0.75]),
    (16.2, [-1.0, -0.8, 0.3, 0.45, 0.6]),
    (18.7, [-1.6, 0.35, 0.5, 0.6]),
    (21.2, [0.35, 0.5, 0.65]),
    (23.7, [0.4, 0.55]),
    (26.2, [0.4, 0.5, 0.6]),
]
naive_sparse_x = [-4.0, -2.6, -1.8, -1.85, -1.15, -1.0, 0.6, 0.65, 0.55, 1.4, 2.0, 0.85, 0.55, 0.6, 0.7, -1.45, -1.35, -1.25, -1.1, -0.45, -0.45, -0.8, -1.55, -1.55, -1.2, -0.9, -0.7, 3.9, 3.9, 1.3, 0.9, 1.25, 2.0]
naive_sparse_y = [133, 78, 54.5, 46.5, 51, 47, 58, 52.5, 50, 54.5, 50, 43.5, 41, 38, 37, 35, 34, 33, 32, 29.5, 26, 25, 22, 19.5, 26, 27, 24, 17.5, 0.5, 26, 30, 23, 0.8]
naive_genes = ["PLCG2", "LTB", "KLF13", "MIF", "KLF2", "S100A4", "CASP8", "CTSL", "PDK1", "NKTR"]
naive_gx = [-3.36, 1.12, 1.13, -1.22, 1.04, 1.61, -1.04, 1.02, -1.74, -1.07]
naive_gy = [51.7, 35.1, 30.6, 28.7, 22.3, 14.3, 6.4, 11.8, 3.8, 1.9]
naive_spots = [(200, 352), (497, 404), (511, 435), (300, 436), (503, 460), (550, 484), (332, 498), (480, 509), (258, 515), (367, 523)]


def unpack(*row_sets):
    xs, ys = [], []
    for rows in row_sets:
        for y, row in rows:
            xs += row
            ys += [y] * len(row)
    return xs, ys


fig = plt.figure(figsize=(W / 100, H / 100), dpi=100)


def box(l, t, r, b):
    return fig.add_axes([l / W, 1 - b / H, (r - l) / W, (b - t) / H])


def ftext(x, y, s, **kw):
    kw.setdefault('ha', 'center')
    kw.setdefault('va', 'center')
    fig.text(x / W, 1 - y / H, s, **kw)


def umap_axes(l, r, ylab_x):
    ax = box(l, 14, r, 229)
    ax.set_xlim(-10.2, 9.6)
    ax.set_ylim(-7.3, 6.75)
    ax.set_xticks([-10, -5, 0, 5])
    ax.set_xticklabels(['\u221210', '\u22125', '0', '5'])
    ax.set_yticks([-4, 0, 4])
    ax.set_yticklabels(['\u22124', '0', '4'])
    ax.tick_params(labelsize=5.5, length=2, width=0.6, pad=1.5, color='#444444')
    for s in ['top', 'right']:
        ax.spines[s].set_visible(False)
    for s in ['left', 'bottom']:
        ax.spines[s].set_color('#555555')
        ax.spines[s].set_linewidth(0.9)
    ax.set_xlabel('UMAP1', fontsize=5.5, labelpad=2)
    ax.set_ylabel('UMAP2', fontsize=5.5)
    ax.yaxis.set_label_coords(ylab_x, 0.5)
    return ax


# panel A
dot = 18
ax = umap_axes(19.7, 319, -0.036)
x, y = unpack(naive_rows)
ax.scatter(x + naive_tail_x, y + naive_tail_y, s=dot, c='#2DB38B', lw=0)
x, y = unpack(ilc_rows)
ax.scatter(x + ilc_left_x, y + ilc_left_y, s=dot, c='#4FB748', lw=0)
x, y = unpack(act_hi_rows, act_lo_rows)
ax.scatter(x + act_far_x, y + act_far_y, s=dot, c='#F4796F', lw=0)
x, y = unpack(nk_top_rows, nk_mid_rows, nk_low_rows)
ax.scatter(x + blue_spare_x, y + blue_spare_y, s=dot, c='#19B3E6', lw=0)
ax.scatter(treg_x, treg_y, s=dot * 0.6, c='#A98BC9', lw=0)
ax.scatter(th1_x, th1_y, s=dot * 0.6, c='#D56FB8', lw=0)
ax.scatter(prolif_x, prolif_y, s=dot * 0.6, c='#C49A24', lw=0)
ax.scatter(green_on_prolif_x, green_on_prolif_y, s=dot * 0.6, c='#4FB748', lw=0)
ax.plot([0.3, 0.6], [-0.5, -2.1], color='k', lw=0.9)
for s, px, py in [('Naive T cells', 65, 110), ('ILCs', 218, 52), ('Activated T cells', 214, 109), ('T regs', 143, 137),
                  ('Th1', 183, 155), ('NK cells', 267, 177), ('Proliferating', 147, 204), ('T cells', 148, 216)]:
    ftext(px, py, s, fontsize=7.5, color='#222222')
ftext(174, 11, 'Colored by cell type', fontsize=8.5)
ftext(7, 5, 'A', fontsize=8.5)

# panel B
ax = umap_axes(355.7, 655, -0.045)
x, y = unpack(naive_rows, act_lo_rows, nk_mid_rows)
ax.scatter(x + naive_tail_x + treg_x + th1_x + prolif_x, y + naive_tail_y + treg_y + th1_y + prolif_y, s=dot, c='#F7BCCB', lw=0)
x, y = unpack(ilc_rows, act_hi_rows, nk_top_rows, nk_low_rows)
ax.scatter(x + ilc_left_x + neonatal_extra_x, y + ilc_left_y + neonatal_extra_y, s=dot * 0.75, c='black', lw=0)
ax.scatter(nec_extra_x, nec_extra_y, s=dot * 0.6, c='#F7BCCB', lw=0)
ax.legend(handles=[Line2D([], [], marker='o', ls='', ms=3.4, color='#F7BCCB', label='NEC'),
                   Line2D([], [], marker='o', ls='', ms=3.4, color='black', label='Neonatal')],
          loc='upper left', bbox_to_anchor=(0.005, 1.0), frameon=False, fontsize=5,
          handletextpad=0.3, labelspacing=0.25, borderpad=0.2)
ftext(511, 11, 'Colored by condition', fontsize=8.5)
ftext(337, 5, 'B', fontsize=8.5)

# panel C mosaics
palette = ListedColormap(['#E8801F', '#3A4FA5', '#D3222A', '#A5D28A', '#3C9E48', '#6A3D9A', '#F0A0A0', '#E8C16A', '#A6CEE3', '#B15928'])
grid = [[int(c) for c in row] for row in neonatal_grid]
ax = box(18, 313, 140, 418)
ax.imshow(grid, cmap=palette, vmin=0, vmax=9, aspect='auto', interpolation='nearest')
ax.axis('off')
nec_strip = [0] * 13
for lab, n in zip(nec_strip_labels, nec_strip_rows):
    nec_strip += [lab] * n
nec_body = [[int(c) for c in row] for row in nec_top_rows] + [row[::-1][:37] for row in grid[len(nec_top_rows):]]
nec_grid = [[nec_strip[i]] * 3 + nec_body[i] for i in range(len(grid))]
ax = box(149, 313, 271, 418)
ax.imshow(nec_grid, cmap=palette, vmin=0, vmax=9, aspect='auto', interpolation='nearest')
ax.axis('off')
ftext(149, 280, 'TCR\u03b2 Clonality', fontsize=6.8)
ftext(80, 306.7, 'Neonatal', fontsize=6)
ftext(211, 306.7, 'NEC', fontsize=6)
ftext(5, 272, 'C', fontsize=8.5)

# panel C bars
ax = box(321, 280.3, 426, 418)
ax.set_xlim(-0.66, 1.65)
ax.set_ylim(0, 0.05)
ax.bar([0], bar_means[0], width=0.62, fc='white', ec='black', lw=1.5)
ax.bar([1], bar_means[1], width=0.62, fc='white', ec='#F7BCCB', lw=1.5)
ax.errorbar([0], bar_means[0], yerr=bar_errs[0], color='#222222', capsize=5.6, lw=0.7, capthick=0.7)
ax.errorbar([1], bar_means[1], yerr=bar_errs[1], color='#F7BCCB', capsize=5.6, lw=0.7, capthick=0.7)
ax.scatter(neonatal_dodge, clonality_neonatal, s=10, c='black', lw=0, zorder=3)
ax.scatter([1 + d for d in nec_dodge], clonality_nec, s=10, c='#F7BCCB', lw=0, zorder=3)
ax.plot([-0.02, 1.02], [0.0453, 0.0453], color='black', lw=1)
ax.text(0.5, 0.0458, 'p-value = 0.07', ha='center', va='bottom', fontsize=5.2)
ax.set_xticks([0, 1])
ax.set_xticklabels(['Neonatal', 'NEC'], fontsize=7.5)
ax.set_yticks([0, 0.01, 0.02, 0.03, 0.04, 0.05])
ax.set_yticklabels(['0.00', '0.01', '0.02', '0.03', '0.04', '0.05'], fontsize=5.5)
ax.tick_params(length=3, width=0.7, pad=2)
ax.set_ylabel('% Clonality', fontsize=7, labelpad=3)
for s in ['top', 'right']:
    ax.spines[s].set_visible(False)
ax.spines['left'].set_linewidth(0.7)
ax.spines['bottom'].set_linewidth(0.7)

# panel D
ax = box(488.3, 276.7, 636, 418.3)
ax.set_xlim(-6.3, 4.1)
ax.set_ylim(-4.43, 6.2)
ax.add_patch(Ellipse(ell_nec[:2], ell_nec[2], ell_nec[3], fc='#F7BCCB', alpha=0.6, lw=0, clip_on=False))
ax.add_patch(Ellipse(ell_neo[:2], ell_neo[2], ell_neo[3], fc='#555555', alpha=0.42, lw=0, clip_on=False))
ax.scatter(pc_nec_x, pc_nec_y, s=14, c='#F7BCCB', lw=0, zorder=3)
ax.scatter(pc_neo_x, pc_neo_y, s=14, c='#111111', lw=0, zorder=3, clip_on=False)
ax.set_xticks([-5, 0])
ax.set_xticklabels(['-5', '0'])
ax.set_yticks([-4, -2, 0, 2, 4])
ax.tick_params(labelsize=5.5, length=2, width=0.6, pad=1.5)
for s in ['top', 'right']:
    ax.spines[s].set_visible(False)
ax.spines['left'].set_color('#444444')
ax.spines['bottom'].set_color('#444444')
ax.set_xlabel('PC1', fontsize=7.5, labelpad=2)
ax.set_ylabel('PC2', fontsize=7.5, labelpad=1)
ax.legend(handles=[Line2D([], [], marker='o', ls='', ms=3.6, color='#F7BCCB', label='NEC'),
                   Line2D([], [], marker='o', ls='', ms=3.6, color='#111111', label='Neonatal')],
          loc='upper left', bbox_to_anchor=(0.0, 0.955), frameon=False, fontsize=5.8,
          handletextpad=0.15, labelspacing=0.25, borderpad=0.2)
ftext(567.7, 279.3, 'VDJ Use', fontsize=7.5)
ftext(461, 272, 'D', fontsize=8.5)


def volcano(rect, xlim, ylim, xticks, yticks, title, title_x, title_y, rows, sx, sy,
            genes, gx, gy, spots, lines, offset):
    ax = box(*rect)
    ax.set_xlim(*xlim)
    ax.set_ylim(*ylim)
    x, y = unpack(rows)
    ax.scatter(x, y, s=10, c='#4A4FA8', lw=0, clip_on=False)
    ax.scatter(sx, sy, s=4, c='#4A4FA8', lw=0, clip_on=False)
    ax.scatter(gx, gy, s=6, c='#EE1C25', lw=0, zorder=3, clip_on=False)
    for name, a, b, (zx, zy) in zip(genes, gx, gy, spots):
        fx = (offset[0] + zx / 3) / W
        fy = 1 - (offset[1] + zy / 3) / H
        props = None
        if name in lines:
            props = dict(arrowstyle='-', lw=0.5, color='black', shrinkA=0, shrinkB=0)
        ax.annotate(name, xy=(a, b), xytext=(fx, fy), textcoords='figure fraction', ha='center', va='center',
                    fontsize=5.5, fontweight='bold', color='#111111', arrowprops=props, annotation_clip=False, zorder=4)
    ax.set_xticks(xticks)
    ax.set_yticks(yticks)
    ax.tick_params(axis='x', pad=3)
    ax.tick_params(axis='y', pad=2.5)
    ax.tick_params(labelsize=5.8, length=1.5, width=0.5, direction='in', color='#777777')
    for s in ['top', 'right']:
        ax.spines[s].set_visible(False)
    for s in ['left', 'bottom']:
        ax.spines[s].set_color('#999999')
        ax.spines[s].set_linewidth(0.8)
    ax.set_xlabel('log2(NEC/Neonatal)', fontsize=5.5, labelpad=1.5)
    ax.set_ylabel('-log10(q-value)', fontsize=5.5, labelpad=1.5)
    ftext(title_x, title_y, title, fontsize=8.3)


volcano((23.3, 474, 197.7, 619.7), (-4, 6), (0, 50), [-4, -2, 0, 2, 4, 6], [0, 10, 20, 30, 40, 50], 'Activated T cells', 114, 468,
        act_rows, act_sparse_x, act_sparse_y, act_genes, act_x, act_y, act_spots, act_lines, (0, 450))
volcano((249.3, 473.7, 422.7, 620), (-5, 4), (0, 8), [-4, -2, 0, 2, 4], list(range(9)), 'T regs', 333, 466,
        treg_rows, treg_sparse_x, treg_sparse_y, treg_genes, treg_gx, treg_gy, treg_spots, treg_lines, (220, 450))
volcano((477, 474, 650, 619.7), (-6, 8), (0, 9), [-6, -4, -2, 0, 2, 4, 6, 8], list(range(10)), 'Proliferating T cells', 566, 466,
        prolif_rows, prolif_sparse_x, prolif_sparse_y, prolif_genes, prolif_gx, prolif_gy, prolif_spots, prolif_lines, (430, 450))
volcano((25.7, 669.3, 199.3, 814.7), (-4, 3), (0, 30), [-4, -3, -2, -1, 0, 1, 2, 3], [0, 5, 10, 15, 20, 25, 30], 'ILCs', 104, 658,
        ilc_v_rows, ilc_sparse_x, ilc_sparse_y, ilc_genes, ilc_gx, ilc_gy, ilc_spots, ilc_lines, (0, 640))
volcano((252, 668.3, 425, 815), (-5, 4), (0, 80), [-4, -2, 0, 2, 4], list(range(0, 81, 10)), 'NK cells', 328, 658,
        nk_v_rows, nk_sparse_x, nk_sparse_y, nk_genes, nk_gx, nk_gy, nk_spots, nk_lines, (220, 640))
volcano((477, 670.3, 651.3, 816.7), (-4, 4), (0, 140), [-4, -2, 0, 2, 4], list(range(0, 141, 20)), 'Naive T cells', 565, 658,
        naive_v_rows, naive_sparse_x, naive_sparse_y, naive_genes, naive_gx, naive_gy, naive_spots, [], (430, 640))
ftext(5, 459, 'E', fontsize=8.5)

fig.savefig('out.png', dpi=100)
